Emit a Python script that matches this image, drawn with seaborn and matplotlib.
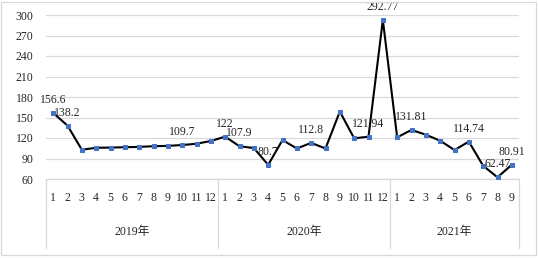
import numpy as np
import pandas as pd
import matplotlib
matplotlib.use("Agg")
import matplotlib.pyplot as plt
import matplotlib.transforms as mtransforms
from matplotlib.lines import Line2D
from matplotlib.patches import Rectangle
import seaborn as sns

# monthly values, 2019-01 .. 2021-09
years = ["2019年", "2020年", "2021年"]
months_per_year = [12, 12, 9]
values_2019 = [156.6, 138.2, 102.8, 105.7, 106.0, 106.5, 107.0, 108.0, 108.5, 109.7, 111.6, 115.6]
values_2020 = [122.0, 107.9, 105.3, 80.7, 117.0, 104.7, 112.8, 104.7, 158.7, 119.5, 121.94, 292.77]
values_2021 = [121.0, 131.81, 124.8, 116.0, 102.4, 114.74, 79.3, 62.47, 80.91]
# points that carry a value label
labelled = [0, 1, 9, 12, 13, 15, 18, 22, 23, 25, 29, 31, 32]

vals = values_2019 + values_2020 + values_2021
month_labels = [str(m) for n in months_per_year for m in range(1, n + 1)]
df = pd.DataFrame({"idx": np.arange(len(vals)), "value": vals})

sns.set_style("white")
plt.rcParams["font.family"] = ["Liberation Serif", "Noto Sans CJK SC"]

fig = plt.figure(figsize=(5.38, 2.58), dpi=100)
ax = fig.add_axes([46 / 538, 1 - 179 / 258, (519 - 46) / 538, (179 - 15) / 258])

sns.lineplot(data=df, x="idx", y="value", ax=ax, color="black", linewidth=1.5,
             marker="s", markersize=3.5, markerfacecolor="#4472C4",
             markeredgecolor="#4472C4", zorder=3)

ax.set_xlim(-0.5, len(vals) - 0.5)
ax.set_ylim(60, 300)
ax.set_yticks(np.arange(60, 301, 30))
ax.tick_params(axis="y", length=0, pad=9, labelsize=8.5)
ax.set_xticks([])
ax.set_xlabel("")
ax.set_ylabel("")
ax.yaxis.grid(True, color="#d9d9d9", linewidth=0.9)
for s in ax.spines.values():
    s.set_visible(False)

for i in labelled:
    v = vals[i]
    ax.annotate(f"{v:g}", (i, v), xytext=(0, 13), textcoords="offset pixels",
                ha="center", va="center", fontsize=8.5, zorder=4, annotation_clip=False)

# category axis: months and year groups
trans = mtransforms.blended_transform_factory(ax.transData, ax.transAxes)
month_off = mtransforms.ScaledTranslation(0, -19 / 100, fig.dpi_scale_trans)
year_off = mtransforms.ScaledTranslation(0, -53 / 100, fig.dpi_scale_trans)
for i, lab in enumerate(month_labels):
    ax.text(i, 0, lab, transform=trans + month_off, ha="center", va="center", fontsize=8.5)

edges = np.concatenate([[0], np.cumsum(months_per_year)]) - 0.5
line_col = "#d9d9d9"
ax.add_line(Line2D([edges[0], edges[-1]], [0, 0], transform=trans, color=line_col,
                   linewidth=0.9, clip_on=False))
for e in edges:
    ax.add_line(Line2D([e, e], [0, -69 / 164], transform=trans, color=line_col,
                       linewidth=0.9, clip_on=False))
for k, y in enumerate(years):
    mid = (edges[k] + edges[k + 1]) / 2
    ax.text(mid, 0, y, transform=trans + year_off, ha="center", va="center", fontsize=8.5)

fig.patches.append(Rectangle((1 / 538, 3 / 258), 535 / 538, 253 / 258, transform=fig.transFigure,
                             fill=False, edgecolor="#d9d9d9", linewidth=0.9))

fig.savefig("out.png", dpi=100)
